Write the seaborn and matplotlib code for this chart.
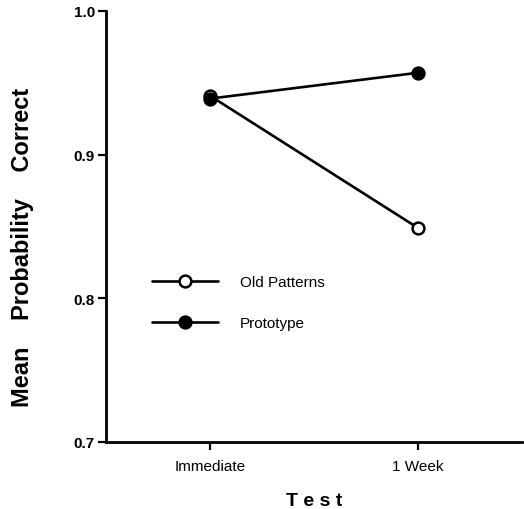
import matplotlib
matplotlib.use("Agg")
import matplotlib.pyplot as plt
import seaborn as sns
import pandas as pd

# Data
tests = ["Immediate", "1 Week"]
old_patterns = [0.941, 0.849]
prototype = [0.939, 0.957]
y_ticks = [0.7, 0.8, 0.9, 1.0]

sns.set_theme(style="ticks")
plt.rcParams["font.family"] = ["Liberation Sans", "DejaVu Sans"]
plt.rcParams["text.color"] = "black"
plt.rcParams["axes.labelcolor"] = "black"

fig = plt.figure(figsize=(5.24, 5.10), dpi=100)
ax = fig.add_axes([0.2023, 0.1314, 0.7937, 0.8451])

df_old = pd.DataFrame({"Test": tests, "p": old_patterns})
df_proto = pd.DataFrame({"Test": tests, "p": prototype})

sns.lineplot(data=df_old, x="Test", y="p", ax=ax, color="black", lw=1.9,
             marker="o", ms=8.5, mfc="white", mec="black", mew=1.8,
             label="Old Patterns", sort=False)
sns.lineplot(data=df_proto, x="Test", y="p", ax=ax, color="black", lw=1.9,
             marker="o", ms=8.5, mfc="black", mec="black", mew=1.8,
             label="Prototype", sort=False)

ax.set_xlim(-0.5, 1.5)
ax.set_ylim(0.7, 1.0)
ax.set_yticks(y_ticks)
ax.set_yticklabels([f"{v:.1f}" for v in y_ticks], fontsize=11, fontweight="bold")
ax.set_xticks(range(len(tests)))
ax.set_xticklabels(tests, fontsize=11)

for side in ["top", "right"]:
    ax.spines[side].set_visible(False)
for side in ["left", "bottom"]:
    ax.spines[side].set_linewidth(2.0)
    ax.spines[side].set_color("black")
ax.tick_params(axis="both", direction="out", length=6, width=1.6, color="black",
               labelcolor="black")
ax.tick_params(axis="x", pad=6)
ax.tick_params(axis="y", pad=2)

ax.set_ylabel("Mean    Probability    Correct", fontsize=17, fontweight="bold")
ax.yaxis.set_label_coords(-0.172, 0.455)
ax.set_xlabel("T e s t", fontsize=14, fontweight="bold")
ax.xaxis.set_label_coords(0.5, -0.115)

ax.legend(loc="upper left", bbox_to_anchor=(0.096, 0.401), frameon=False,
          fontsize=11, handlelength=4.3, handletextpad=1.44, labelspacing=1.75,
          borderaxespad=0)

fig.savefig("out.png", dpi=100)
